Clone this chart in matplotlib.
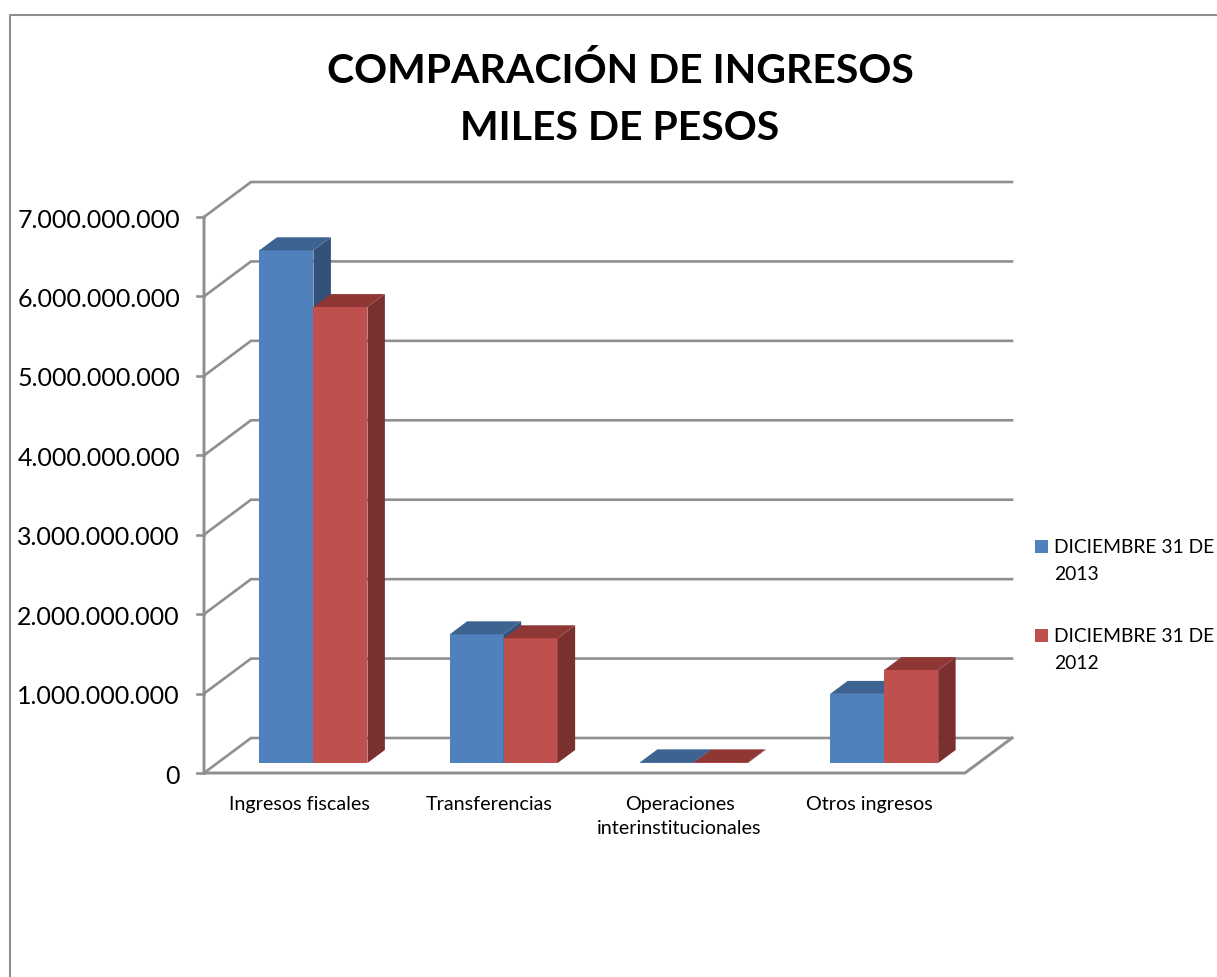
import matplotlib
matplotlib.use("Agg")
import matplotlib.pyplot as plt
from matplotlib.patches import Polygon, Rectangle

plt.rcParams['font.family'] = ['Lato', 'DejaVu Sans']

# data
categories = ['Ingresos fiscales', 'Transferencias', 'Operaciones\ninterinstitucionales', 'Otros ingresos']
valores_2013 = [6455000000, 1620000000, 8000000, 870000000]
valores_2012 = [5740000000, 1570000000, 8000000, 1170000000]
serie_labels = ['DICIEMBRE 31 DE\n2013', 'DICIEMBRE 31 DE\n2012']
y_ticks = [0, 1000000000, 2000000000, 3000000000, 4000000000, 5000000000, 6000000000, 7000000000]

W, H = 1217, 977
GRID = '#8f8f8f'
colors = [('#4f81bd', '#3d6390', '#325079'), ('#c0504d', '#8e3735', '#7b3030')]

fig = plt.figure(figsize=(W / 100, H / 100), dpi=100)
fig.patch.set_facecolor('white')

# axes = front plane of the fake 3d box
left, right, top, bottom = 204, 965, 217, 773
ax = fig.add_axes([left / W, 1 - bottom / H, (right - left) / W, (bottom - top) / H])
ax.set_xlim(0, len(categories))
ax.set_ylim(0, 7000000000)
ax.axis('off')

# depth of the box, in data units
cat_px = (right - left) / len(categories)
val_px = (bottom - top) / 7000000000
DX = 47 / cat_px
DY = 35 / val_px


def proj(x, y, d):
    return x + d * DX, y + d * DY


# back wall lines + slanted lines on the side wall
for v in y_ticks:
    x0, y0 = proj(0, v, 0)
    x1, y1 = proj(0, v, 1)
    x2, y2 = proj(len(categories), v, 1)
    ax.plot([x0, x1, x2], [y0, y1, y2], color=GRID, lw=1.9, clip_on=False, zorder=1, solid_joinstyle='miter')
    ax.plot([-7 / cat_px, 0], [v, v], color=GRID, lw=1.9, clip_on=False, zorder=1)

# floor and front axis
xe, ye = proj(len(categories), 0, 1)
ax.plot([0, 0, len(categories), xe], [7000000000, 0, 0, ye], color=GRID, lw=2.1, clip_on=False, zorder=2,
        solid_joinstyle='miter')

# bars
bar_w = 54 / cat_px
gap = 42 / cat_px
d0, d1 = 10 / 35, 23 / 35
z = 3
for i in range(len(categories)):
    for j, vals in enumerate([valores_2013, valores_2012]):
        h = vals[i]
        x0 = i + gap + j * bar_w
        x1 = x0 + bar_w
        front, top_c, side = colors[j]
        ax.add_patch(Polygon([proj(x0, 0, d0), proj(x1, 0, d0), proj(x1, h, d0), proj(x0, h, d0)],
                             fc=front, ec='none', clip_on=False, zorder=z))
        ax.add_patch(Polygon([proj(x1, 0, d0), proj(x1, 0, d1), proj(x1, h, d1), proj(x1, h, d0)],
                             fc=side, ec='none', clip_on=False, zorder=z))
        ax.add_patch(Polygon([proj(x0, h, d0), proj(x1, h, d0), proj(x1, h, d1), proj(x0, h, d1)],
                             fc=top_c, ec='none', clip_on=False, zorder=z))
        z += 1

# tick labels
for v in y_ticks:
    ax.text(-24 / cat_px, v - 3 / val_px, f'{v:,}'.replace(',', '.'), ha='right', va='center', fontsize=18,
            color='black', clip_on=False)
for i, c in enumerate(categories):
    ax.text(i + 0.5, -23 / val_px, c, ha='center', va='top', fontsize=14.2, color='black',
            linespacing=1.5, clip_on=False)

# title
fig.text(620 / W, 1 - 71 / H, 'COMPARACIÓN DE INGRESOS', ha='center', va='center', fontsize=29.5, fontweight='bold')
fig.text(620 / W, 1 - 128 / H, 'MILES DE PESOS', ha='center', va='center', fontsize=29.5, fontweight='bold')

# legend
for k, (lab, y) in enumerate(zip(serie_labels, [546, 635])):
    fig.patches.append(Rectangle((1035 / W, 1 - (y + 6.5) / H), 13 / W, 13 / H, transform=fig.transFigure,
                                 fc=colors[k][0], ec='none'))
    fig.text(1054 / W, 1 - (y - 7) / H, lab, ha='left', va='top', fontsize=13.9, linespacing=1.7)

# chart border
fig.add_artist(plt.Line2D([10 / W, 10 / W, 1], [0, 1 - 15 / H, 1 - 15 / H], color='#8e8e8e', lw=1.5,
                          transform=fig.transFigure))

fig.savefig('out.png', dpi=100)
